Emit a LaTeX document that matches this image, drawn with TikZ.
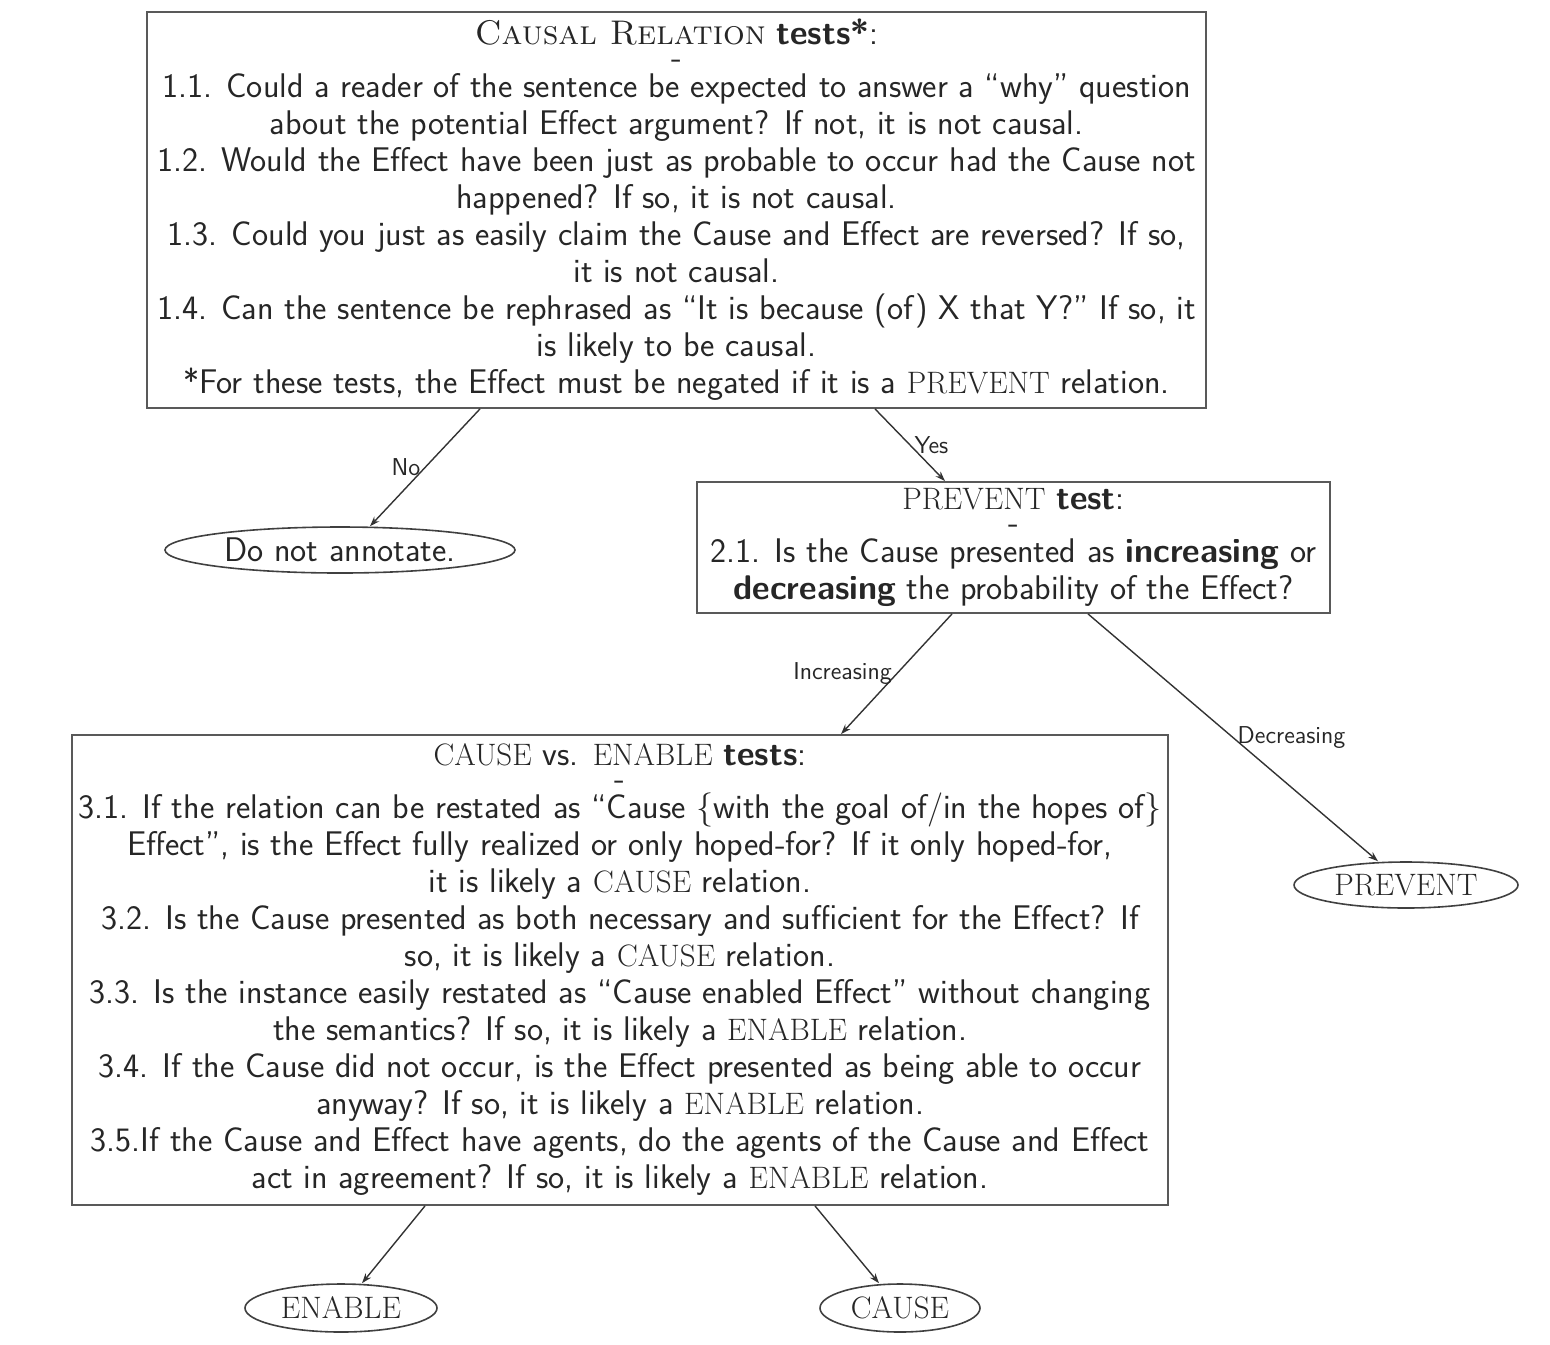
\documentclass[tikz,border=0pt]{standalone}
\usetikzlibrary{shapes.geometric,arrows.meta,calc}
\newcommand\rcaps[1]{{\rmfamily\fontsize{15.5}{18.5}\selectfont #1}}
\begin{document}
\begin{tikzpicture}[x=0.5pt,y=-0.5pt,
  txt/.style={font=\sffamily\fontsize{17.1}{18.5}\selectfont, text=black!85},
  testbox/.style={txt, draw=black!65, line width=0.9pt, align=center, inner sep=0pt},
  leaf/.style={txt, draw=black!75, line width=0.8pt, ellipse, inner sep=0pt},
  edge/.style={draw=black!80, line width=0.7pt, -{Stealth[length=5pt,width=3.5pt]}},
  lbl/.style={font=\sffamily\fontsize{12.2}{13}\selectfont, text=black!85, inner sep=2pt}]
\useasboundingbox (0,0) rectangle (1550,1344);

\node[testbox, minimum width=529.5pt, minimum height=198pt] (box1) at (676.5,210) {%
\textrm{\textsc{Causal Relation}} \textbf{tests*}:\\[-6.5pt]
-\\[-4pt]
1.1. Could a reader of the sentence be expected to answer a ``why'' question\\
about the potential Effect argument? If not, it is not causal.\\
1.2. Would the Effect have been just as probable to occur had the Cause not\\
happened? If so, it is not causal.\\
1.3. Could you just as easily claim the Cause and Effect are reversed? If so,\\
it is not causal.\\
1.4. Can the sentence be rephrased as ``It is because (of) X that Y?'' If so, it\\
is likely to be causal.\\
*For these tests, the Effect must be negated if it is a \rcaps{PREVENT} relation.};

\node[testbox, minimum width=316.5pt, minimum height=65.5pt] (box2) at (1013.5,547.5) {%
\rcaps{PREVENT} \textbf{test}:\\[-6.5pt]
-\\[-4pt]
2.1. Is the Cause presented as \textbf{increasing} or\\
\textbf{decreasing} the probability of the Effect?};

\node[testbox, minimum width=548pt, minimum height=235pt] (box3) at (620,970) {%
\rcaps{CAUSE} vs. \rcaps{ENABLE} \textbf{tests}:\\[-6.5pt]
-\\[-4pt]
3.1. If the relation can be restated as ``Cause \{with the goal of/in the hopes of\}\\
Effect'', is the Effect fully realized or only hoped-for? If it only hoped-for,\\
it is likely a \rcaps{CAUSE} relation.\\
3.2. Is the Cause presented as both necessary and sufficient for the Effect? If\\
so, it is likely a \rcaps{CAUSE} relation.\\
3.3. Is the instance easily restated as ``Cause enabled Effect'' without changing\\
the semantics? If so, it is likely a \rcaps{ENABLE} relation.\\
3.4. If the Cause did not occur, is the Effect presented as being able to occur\\
anyway? If so, it is likely a \rcaps{ENABLE} relation.\\
3.5.If the Cause and Effect have agents, do the agents of the Cause and Effect\\
act in agreement? If so, it is likely a \rcaps{ENABLE} relation.};

\node[leaf, minimum width=175pt, minimum height=23pt] (dna) at (340,550) {Do not annotate.};
\node[leaf, minimum width=112pt, minimum height=23pt] (prevent) at (1406,885) {\rcaps{PREVENT}};
\node[leaf, minimum width=96pt, minimum height=24pt] (enable) at (341,1308) {\rcaps{ENABLE}};
\node[leaf, minimum width=80pt, minimum height=24pt] (cause) at (900,1308) {\rcaps{CAUSE}};

\draw[edge] ([xshift=-98.25pt]box1.south) -- node[lbl, left] {No} ([xshift=15pt]dna.north);
\draw[edge] ([xshift=99.25pt]box1.south) -- node[lbl, right] {Yes} ([xshift=-34.25pt]box2.north);
\draw[edge] ([xshift=-30.75pt]box2.south) -- node[lbl, left] {Increasing} ([xshift=110.5pt]box3.north);
\draw[edge] ([xshift=37.25pt]box2.south) -- node[lbl, right] {Decreasing} ([xshift=-14pt]prevent.north);
\draw[edge] ([xshift=-97.5pt]box3.south) -- ([xshift=10.5pt]enable.north);
\draw[edge] ([xshift=97.5pt]box3.south) -- ([xshift=-10.5pt]cause.north);
\end{tikzpicture}
\end{document}
